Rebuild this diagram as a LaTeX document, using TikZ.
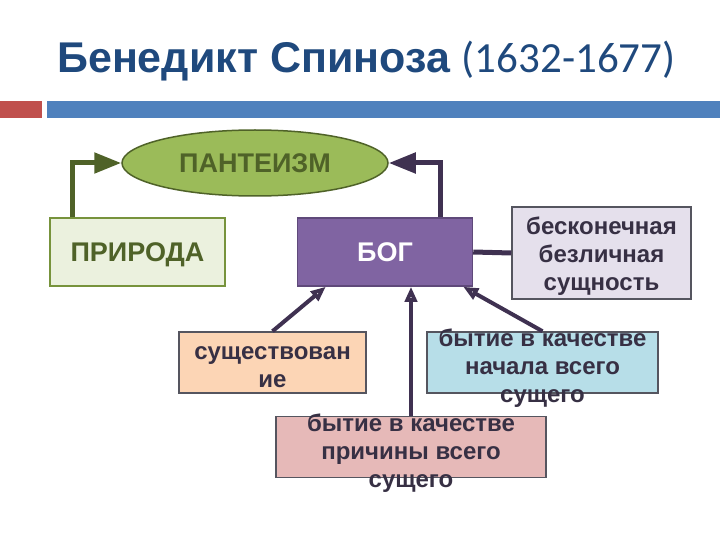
\documentclass[tikz,border=0pt]{standalone}
\usepackage{fontspec}
\setmainfont{Liberation Sans}
\newfontfamily\calibri{Carlito}
\usetikzlibrary{arrows.meta}
\usetikzlibrary{shapes.geometric}

\definecolor{titolo}{RGB}{31,73,125}
\definecolor{rosso}{RGB}{192,80,77}
\definecolor{blu}{RGB}{79,129,189}
\definecolor{oliva}{RGB}{79,98,40}
\definecolor{verde}{RGB}{155,187,89}
\definecolor{verdechiaro}{RGB}{235,241,222}
\definecolor{viola}{RGB}{128,100,162}
\definecolor{violascuro}{RGB}{63,49,81}
\definecolor{lilla}{RGB}{229,224,236}
\definecolor{pesca}{RGB}{252,213,181}
\definecolor{azzurro}{RGB}{183,222,232}
\definecolor{rosa}{RGB}{230,185,184}
\definecolor{grigio}{RGB}{85,85,95}
\definecolor{scuro}{RGB}{55,48,68}

\begin{document}
\begin{tikzpicture}[x=1pt, y=-1pt,
  box/.style={draw, line width=1.5pt, inner sep=0pt, minimum width=175pt, minimum height=68pt,
    text height=19.3pt, text depth=0pt, font=\bfseries\fontsize{27}{32}\selectfont},
  lowbox/.style={draw=grigio, line width=1.5pt, inner sep=0pt, minimum height=61pt},
  boxtxt/.style={text=scuro, align=center, inner sep=0pt, yshift=-6pt,
    font=\bfseries\fontsize{24}{28}\selectfont},
  bigarrow/.style={line width=5pt, -{Triangle[length=27pt,width=20pt]}},
  smallarrow/.style={line width=4pt, violascuro, -{Triangle[open,length=15pt,width=12pt]}}]

\useasboundingbox (0,0) rectangle (720,540);

% Titolo
\node[anchor=base west, inner sep=0pt, text=titolo, font=\fontsize{43}{50}\selectfont] (titolo) at (57,73)
  {\bfseries Бенедикт Спиноза {\calibri\mdseries (1632-1677)}};

% Barra
\fill[rosso] (0,101) rectangle (42,118);
\fill[blu] (47,101) rectangle (720,118);

% Ellisse
\node[ellipse, draw=oliva, fill=verde, line width=1.5pt, minimum width=266pt, minimum height=66pt,
  inner sep=0pt, text height=19.3pt, text depth=0pt, text=oliva,
  font=\bfseries\fontsize{27}{32}\selectfont] (panteizm) at (255,163) {ПАНТЕИЗМ};

% Riquadri centrali
\node[box, draw={rgb,255:red,119;green,147;blue,60}, fill=verdechiaro, text=oliva] (priroda) at (137.5,252) {ПРИРОДА};
\node[box, draw={rgb,255:red,95;green,73;blue,122}, fill=viola, text=white] (bog) at (385,252) {БОГ};
\node[draw=grigio, fill=lilla, line width=1.5pt, minimum width=179pt, minimum height=92pt, inner sep=0pt,
  label={[boxtxt, yshift=3pt, font=\bfseries\fontsize{24}{28}\selectfont]center:{бесконечная\\безличная\\сущность}}] (sushchnost) at (601.5,253) {};

% Frecce verso il panteismo
\draw[bigarrow, oliva] ([xshift=23pt]priroda.north west) |- (panteizm.west);
\draw[bigarrow, violascuro] ([xshift=-33pt]bog.north east) |- (panteizm.east);
\draw[line width=5pt, violascuro] (bog.east) -- (sushchnost.west);

% Riquadri inferiori
\node[lowbox, fill=pesca, minimum width=187pt,
  label={[boxtxt, yshift=1pt]center:{существован\\ие}}] (sushch) at (272.5,362.5) {};
\node[lowbox, fill=azzurro, minimum width=231pt,
  label={[boxtxt]center:{бытие в качестве\\начала всего\\сущего}}] (nachalo) at (542.5,362.5) {};
\node[lowbox, fill=rosa, minimum width=270pt,
  label={[boxtxt]center:{бытие в качестве\\причины всего\\сущего}}] (prichina) at (411,447) {};

% Frecce verso Dio
\draw[smallarrow] (sushch.north) -- ([xshift=29pt]bog.south west);
\draw[smallarrow] (prichina.north) -- (prichina.north |- bog.south);
\draw[smallarrow] (nachalo.north) -- ([xshift=-10pt]bog.south east);
\end{tikzpicture}
\end{document}
